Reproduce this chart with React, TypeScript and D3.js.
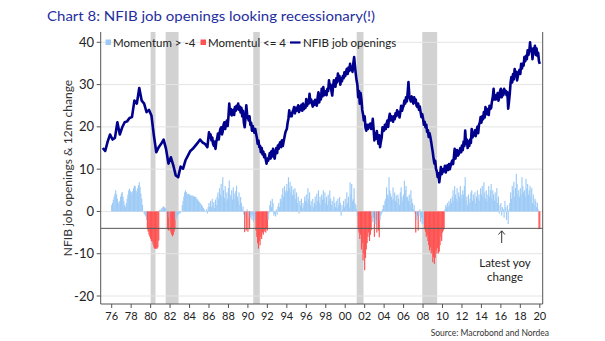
import React from 'react';
import * as d3 from 'd3';

// NFIB job openings: quarterly 1975Q1-1985Q4
const lineQuarterlyStart = 1975;
const lineQuarterly = [
  15.0, 14.3, 16.5, 18.2,
  17.0, 17.4, 21.1, 18.2,
  19.9, 21.1, 21.3, 22.1,
  22.3, 26.2, 25.5, 29.2,
  26.2, 25.5, 23.5, 24.0,
  22.7, 18.0, 14.0, 15.2,
  16.0, 17.0, 14.8, 11.3,
  12.8, 10.9, 8.5, 8.1,
  10.6, 10.1, 12.1, 13.2,
  14.3, 14.8, 15.5, 16.2,
  17.0, 16.3, 16.0, 15.2,
];

// NFIB job openings: monthly from 1986-01
const lineMonthlyStart = 1986;
const lineMonthly = [
  18.7, 17.5, 18.2, 16.8, 17.5, 16.0, 15.5, 16.5, 14.8, 16.5, 17.2, 18.4,
  17.0, 18.5, 19.5, 19.9, 18.2, 19.0, 20.5, 21.1, 19.5, 20.8, 21.5, 20.2,
  22.5, 25.5, 23.0, 24.2, 22.7, 23.5, 24.0, 22.8, 24.7, 23.8, 25.0, 24.2,
  25.5, 24.0, 24.8, 23.4, 24.5, 22.5, 23.8, 21.0, 19.9, 22.0, 25.1, 23.0,
  22.2, 21.5, 22.5, 20.5, 21.0, 19.1, 20.2, 19.5, 18.6, 19.5, 18.4, 17.5,
  16.0, 16.8, 15.2, 15.5, 14.0, 15.0, 13.5, 14.2, 12.8, 13.5, 12.2, 11.3,
  12.5, 12.0, 12.8, 13.8, 12.5, 14.2, 13.0, 14.8, 13.2, 12.5, 14.0, 15.0,
  13.8, 15.6, 14.8, 16.0, 16.4, 15.2, 16.8, 15.5, 16.5, 17.5, 18.5, 19.1,
  19.5, 21.0, 22.0, 23.9, 22.5, 23.2, 22.5, 23.5, 24.0, 24.7, 23.2, 24.5,
  23.8, 24.5, 25.1, 23.5, 24.8, 24.0, 25.2, 23.8, 25.5, 24.2, 25.0, 24.5,
  26.6, 25.0, 26.2, 25.5, 27.8, 25.8, 26.5, 25.5, 24.8, 26.0, 25.2, 26.4,
  26.2, 25.0, 27.0, 28.2, 25.8, 27.5, 26.5, 29.0, 27.2, 29.4, 27.5, 28.5,
  28.2, 27.5, 29.0, 28.5, 31.0, 29.2, 30.0, 28.5, 27.4, 29.5, 31.0, 30.0,
  29.5, 31.5, 30.5, 32.6, 31.0, 32.0, 30.0, 31.5, 30.8, 32.0, 31.5, 32.9,
  32.0, 33.0, 33.7, 32.5, 34.0, 33.2, 34.9, 33.5, 34.2, 33.0, 35.0, 36.5,
  34.5, 32.6, 31.0, 30.0, 27.0, 28.5, 25.5, 28.0, 26.5, 24.0, 23.0, 21.5,
  22.5, 19.8, 19.1, 20.5, 19.5, 20.5, 19.9, 20.8, 19.5, 20.0, 21.9, 19.5,
  16.8, 18.5, 17.2, 19.0, 17.5, 16.0, 18.0, 15.2, 16.5, 17.5, 19.9, 19.0,
  19.2, 20.5, 19.5, 20.7, 21.5, 20.0, 22.0, 23.1, 21.5, 22.5, 22.0, 21.2,
  22.5, 21.8, 23.2, 22.5, 23.9, 22.8, 23.5, 22.2, 23.5, 25.0, 23.8, 24.5,
  25.0, 26.2, 25.5, 27.0, 26.0, 28.0, 30.6, 27.5, 26.5, 26.0, 27.2, 26.5,
  25.5, 27.0, 25.8, 26.5, 25.0, 24.7, 25.5, 24.0, 24.8, 23.5, 22.3, 23.0,
  22.0, 20.5, 21.2, 19.9, 20.5, 18.8, 19.2, 17.6, 18.5, 17.6, 16.5, 15.2,
  14.0, 12.5, 11.3, 12.0, 10.0, 9.5, 8.1, 9.0, 6.9, 8.5, 10.5, 8.8,
  9.2, 10.0, 9.5, 10.8, 9.2, 10.5, 10.9, 9.8, 11.2, 10.0, 10.8, 11.5,
  12.0, 11.2, 12.8, 14.8, 12.5, 13.8, 14.5, 13.2, 13.5, 14.2, 15.0, 14.0,
  15.6, 14.5, 16.5, 15.5, 19.1, 16.0, 17.0, 15.0, 16.5, 15.5, 17.0, 16.2,
  19.5, 17.5, 18.5, 18.0, 19.2, 17.8, 19.0, 20.0, 18.5, 20.5, 21.0, 22.3,
  21.0, 22.5, 21.8, 23.5, 22.2, 24.7, 23.5, 23.0, 24.2, 22.8, 25.0, 24.2,
  24.5, 26.0, 27.0, 29.0, 26.5, 27.5, 26.5, 27.0, 28.0, 26.2, 27.0, 28.5,
  29.0, 27.0, 28.5, 27.5, 29.0, 28.0, 28.5, 27.5, 28.2, 24.3, 26.0, 28.0,
  30.5, 31.8, 30.5, 32.5, 31.2, 33.7, 32.0, 33.0, 31.0, 32.0, 33.0, 33.5,
  32.5, 34.9, 33.8, 35.0, 34.5, 36.5, 35.5, 36.8, 36.0, 38.1, 37.0, 37.8,
  40.0, 38.0, 38.5, 36.0, 38.5, 37.5, 39.2, 37.0, 38.5, 36.8, 37.5, 35.5,
  34.9,
];

// 12m change (momentum), monthly from 1976-01
const momentumStart = 1976;
const momentum = [
  1.5, 2.0, 2.8, 3.5, 4.2, 5.0, 4.0, 3.0, 2.2, 1.8, 2.5, 3.5,
  4.2, 4.6, 3.5, 2.5, 1.5, 1.0, 2.0, 3.0, 4.0, 5.0, 5.4, 4.8,
  4.6, 4.2, 4.8, 5.5, 6.1, 6.0, 5.0, 4.5, 5.5, 6.2, 6.9, 5.8,
  4.2, 3.0, 1.5, 0.0, -0.5, -0.8, -1.2, -2.0, -4.2, -4.8, -5.5, -6.0,
  -6.5, -7.0, -7.2, -7.8, -8.5, -8.8, -8.8, -8.8, -8.8, -8.5, -6.9, 0.3,
  0.3, 0.5, 0.8, 1.0, 1.2, 1.0, 0.8, 0.5, -0.5, -4.2, -4.5, -1.5,
  -4.5, -5.0, -5.5, -5.9, -5.5, -4.8, -4.2, -2.0, -1.5, -1.0, -0.8, -0.5,
  -0.5, -0.3, 0.0, 1.5, 2.5, 3.5, 4.5, 5.0, 4.6, 4.2, 4.0, 4.2,
  4.0, 3.8, 3.8, 3.6, 3.8, 3.5, 3.6, 3.4, 3.4, 3.0, 2.8, 2.5,
  2.2, 2.0, 1.8, 1.5, 1.2, 0.8, 0.5, 0.2, 0.0, 0.5, -0.5, 1.0,
  2.0, 1.2, 2.5, 1.0, 3.0, 1.5, 2.2, 0.8, 2.8, 1.5, 3.5, 4.5,
  3.0, 5.5, 4.0, 6.5, 3.5, 8.1, 5.0, 3.2, 6.0, 2.5, 4.5, 3.0,
  5.5, 7.3, 4.0, 3.5, 5.0, 2.8, 5.7, 4.2, 3.0, 4.8, 6.1, 3.5,
  2.5, 4.5, 1.5, 3.4, 2.0, 0.5, 1.2, -0.8, -4.9, -1.5, -4.5, 0.5,
  -4.8, -1.0, -4.2, -1.5, -0.8, -2.0, -1.0, -2.5, -1.2, -2.0, -4.5, -6.0,
  -7.5, -8.8, -7.0, -8.0, -6.0, -6.5, -5.0, -5.5, -4.8, -4.5, -5.0, -4.2,
  -4.5, -2.0, -0.5, 1.5, 2.5, 1.0, 3.0, 2.0, -1.0, -0.5, -1.2, 0.5,
  -0.8, 1.2, 2.0, 1.0, 3.0, 2.5, 4.0, 5.5, 3.5, 6.0, 4.5, 5.0,
  6.5, 4.8, 8.1, 5.5, 7.0, 4.5, 6.0, 3.8, 5.2, 4.0, 5.5, 3.0,
  4.5, 2.0, 3.5, -0.5, 2.5, 1.5, 3.0, 0.8, 2.0, 1.2, 3.5, 2.5,
  4.0, 2.0, 5.5, 3.0, 4.5, 1.5, 2.5, 0.5, 3.0, 1.0, 2.0, 3.5,
  1.5, 4.2, 2.5, 5.0, 2.0, 3.5, 1.5, 4.0, 2.8, 5.0, 3.0, 4.5,
  2.0, 3.5, 1.5, 4.0, 2.5, 5.0, 3.0, 1.5, 2.5, 0.5, 3.5, 2.0,
  1.0, 2.5, 0.8, 3.0, 1.5, 3.4, 2.0, -1.0, 1.5, 0.5, 2.5, 1.0,
  3.0, 1.5, 4.5, 2.0, 3.5, 1.0, 6.9, 4.0, 6.5, 2.5, 3.0, 5.5,
  2.0, 1.5, 0.5, -1.0, -4.2, -5.0, -6.5, -5.5, -9.0, -7.5, -11.6, -10.0,
  -13.9, -11.0, -9.0, -7.5, -6.0, -5.0, -7.0, -5.5, -4.5, -1.0, -2.5, -1.5,
  -6.0, -3.0, -2.0, -5.0, -3.5, -4.5, -6.1, -2.0, -1.0, -0.5, 0.5, 1.5,
  1.5, 2.5, 3.0, 5.7, 4.0, 3.5, 8.1, 5.0, 4.2, 3.5, 2.8, 5.7,
  3.0, 4.5, 2.5, 3.8, 2.0, 4.0, 3.0, 1.5, 4.5, 5.7, 3.5, 2.5,
  4.0, 7.3, 5.0, 6.0, 3.5, 3.4, 2.5, 4.0, 1.5, 5.0, 3.0, 2.0,
  0.5, 1.5, -0.5, -5.0, -2.0, -1.0, -4.5, -1.0, 0.5, -2.5, -1.5, -3.0,
  -2.0, -3.0, -4.2, -4.8, -6.0, -5.5, -7.0, -8.0, -9.2, -8.5, -10.0, -9.5,
  -12.0, -10.8, -12.4, -11.0, -9.2, -10.0, -8.7, -9.9, -9.5, -8.0, -6.0, -7.0,
  -5.0, -4.5, -4.2, 0.5, 1.5, 1.0, 2.0, 1.2, 2.5, 1.5, 3.0, 2.0,
  3.5, 5.0, 2.5, 6.0, 4.0, 3.0, 5.5, 2.5, 4.5, 3.5, 6.0, 4.0,
  3.0, 5.0, 4.0, 6.0, 8.1, 2.5, 3.5, 1.5, 4.0, 2.0, 3.0, 4.5,
  5.0, 2.5, 4.0, 3.0, 4.5, 2.0, 3.5, 5.0, 3.0, 4.0, 2.5, 5.5,
  4.0, 6.0, 3.5, 6.9, 4.5, 3.0, 5.0, 2.5, 4.0, 6.0, 3.5, 5.0,
  6.5, 3.0, 5.0, 4.0, 2.5, 4.5, 3.0, 5.5, 2.0, 3.5, -0.5, 1.5,
  2.0, -1.0, 1.0, 0.5, -1.5, 2.5, 1.0, -2.0, 1.5, -3.0, 0.5, 2.0,
  4.5, 3.0, 6.0, 5.0, 7.0, 3.5, 5.5, 8.9, 6.5, 4.0, 5.0, 3.5,
  5.5, 4.0, 8.1, 6.0, 4.5, 5.0, 3.5, 7.7, 5.5, 6.5, 4.0, 5.0,
  6.0, 3.5, 5.5, 2.0, 4.0, 1.5, 3.0, 2.5, 1.0, 2.0, 0.5, -4.2,
  -4.0,
];

const recessionStart = [1980.0, 1981.55, 1990.55, 2001.18, 2007.92];
const recessionEnd = [1980.5, 1982.87, 1991.22, 2001.88, 2009.45];

const xTickYears = [1976, 1978, 1980, 1982, 1984, 1986, 1988, 1990, 1992, 1994, 1996, 1998, 2000, 2002, 2004, 2006, 2008, 2010, 2012, 2014, 2016, 2018, 2020];
const yTicks = [40, 30, 20, 10, 0, -10, -20];
const threshold = -4;

const titleText = 'Chart 8: NFIB job openings looking recessionary(!)';
const legendLabels = ['Momentum > -4', 'Momentul <= 4', 'NFIB job openings'];
const yAxisTitle = 'NFIB job openings & 12m change';
const annotationLines = ['Latest yoy', 'change'];
const sourceText = 'Source: Macrobond and Nordea';

const COL_BLUE = '#9ecbf6';
const COL_RED = '#ff5252';
const COL_LINE = '#00008c';
const COL_REC = '#d2d2d2';
const FONT = 'Lato, "Open Sans", sans-serif';

export default function App() {
  const W = 605, H = 341;
  const plotLeft = 100.7, plotRight = 542.7, plotTop = 32, plotBottom = 304;

  const x = d3.scaleLinear().domain([1976, 2020]).range([111.7, 539.8]);
  const y = d3.scaleLinear().domain([-20, 40]).range([296, 42.3]);

  type Pt = { t: number; v: number };
  const linePts: Pt[] = [
    ...lineQuarterly.map((v, i) => ({ t: lineQuarterlyStart + Math.floor(i / 4) + ((i % 4) * 3 + 1) / 12, v })),
    ...lineMonthly.map((v, i) => ({ t: lineMonthlyStart + i / 12, v })),
  ];
  const linePath = d3.line<Pt>().x(d => x(d.t)).y(d => y(d.v))(linePts) || '';

  const step = (x(1977) - x(1976)) / 12;
  const barW = step + 0.35;
  const y0 = y(0);

  return (
    <svg width={W} height={H} style={{ position: 'absolute', left: 0, top: 0, background: '#fff' }} fontFamily={FONT}>
      <rect x={0} y={0} width={W} height={H} fill="#fff" />
      <text x={47} y={21} fontSize={14} fill="#1f2e9e" textLength={328} lengthAdjust="spacingAndGlyphs">{titleText}</text>

      {/* recessions */}
      {recessionStart.map((s, i) => (
        <rect key={'r' + i} x={x(s)} y={plotTop} width={x(recessionEnd[i]) - x(s)} height={plotBottom - plotTop} fill={COL_REC} />
      ))}

      {/* grid */}
      {yTicks.map(t => (
        <line key={'g' + t} x1={plotLeft} x2={plotRight} y1={y(t)} y2={y(t)} stroke="#e4e4e4" strokeWidth={1} />
      ))}

      {/* bars */}
      {momentum.map((v, i) => {
        const t = momentumStart + i / 12;
        const yy = y(v);
        return (
          <rect key={'b' + i} x={x(t) - barW / 2} width={barW}
            y={Math.min(yy, y0)} height={Math.abs(yy - y0)}
            fill={v <= threshold ? COL_RED : COL_BLUE} />
        );
      })}

      {/* threshold line */}
      <line x1={plotLeft} x2={plotRight} y1={y(threshold)} y2={y(threshold)} stroke="#555" strokeWidth={1} />

      {/* job openings line */}
      <path d={linePath} fill="none" stroke={COL_LINE} strokeWidth={2.6} strokeLinejoin="round" />

      {/* axes frame */}
      <line x1={plotLeft} x2={plotLeft} y1={plotTop} y2={plotBottom} stroke="#555" />
      <line x1={plotRight} x2={plotRight} y1={plotTop} y2={plotBottom} stroke="#555" />
      <line x1={plotLeft} x2={plotRight} y1={plotBottom} y2={plotBottom} stroke="#555" />

      {yTicks.map(t => (
        <g key={'yt' + t}>
          <line x1={plotLeft - 4} x2={plotLeft} y1={y(t)} y2={y(t)} stroke="#555" />
          <text x={94} y={y(t) + 4.5} fontSize={13} textAnchor="end" fill="#222">{t}</text>
        </g>
      ))}
      {xTickYears.map(yr => (
        <g key={'xt' + yr}>
          <line x1={x(yr)} x2={x(yr)} y1={plotBottom} y2={plotBottom + 4} stroke="#555" />
          <text x={x(yr)} y={320} fontSize={11} textAnchor="middle" fill="#222">{String(yr % 100).padStart(2, '0')}</text>
        </g>
      ))}

      <text transform={`translate(72,168) rotate(-90)`} fontSize={12} textAnchor="middle" fill="#333">{yAxisTitle}</text>

      {/* legend */}
      <rect x={105.5} y={39.5} width={5.5} height={5.5} fill={COL_BLUE} />
      <text x={113} y={46.5} fontSize={11.5} fill="#222">{legendLabels[0]}</text>
      <rect x={200.5} y={39.5} width={5.5} height={5.5} fill={COL_RED} />
      <text x={208} y={46.5} fontSize={11.5} fill="#222">{legendLabels[1]}</text>
      <line x1={290} x2={300.5} y1={42.5} y2={42.5} stroke={COL_LINE} strokeWidth={2.2} />
      <text x={303} y={46.5} fontSize={11.5} fill="#222">{legendLabels[2]}</text>

      {/* annotation */}
      <line x1={501.7} x2={501.7} y1={231} y2={243} stroke="#333" strokeWidth={1} />
      <path d="M498.5,234.5 L501.7,230.8 L504.9,234.5" fill="none" stroke="#333" strokeWidth={1} />
      <text x={505} y={267} fontSize={11.5} textAnchor="middle" fill="#222">{annotationLines[0]}</text>
      <text x={505} y={281} fontSize={11.5} textAnchor="middle" fill="#222">{annotationLines[1]}</text>

      <text x={549} y={336} fontSize={8.5} textAnchor="end" fill="#333">{sourceText}</text>
    </svg>
  );
}
